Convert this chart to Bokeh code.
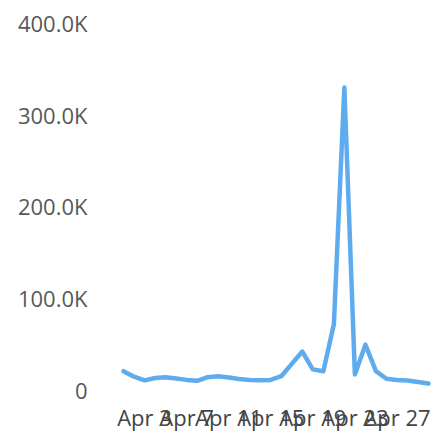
from bokeh.plotting import figure
from bokeh.models import FixedTicker, Range1d, ColumnDataSource
from bokeh.embed import file_html
from bokeh.resources import INLINE

# Data: daily values for April (day of month -> value)
days = list(range(1, 31))
values = [20000, 14000, 10000, 12500, 13500, 12000, 10500, 9500, 13500, 14500,
          13000, 11500, 10500, 10000, 10500, 14500, 28000, 41500, 22000, 20000,
          71000, 330000, 16500, 49000, 20000, 11700, 10400, 9800, 8200, 6500]

x_tick_days = [3, 7, 11, 15, 19, 23, 27]
x_tick_labels = ["Apr 3", "Apr 7", "Apr 11", "Apr 15", "Apr 19", "Apr 23", "Apr 27"]
y_ticks = [0, 100000, 200000, 300000, 400000]
y_tick_labels = ["0", "100.0K", "200.0K", "300.0K", "400.0K"]

src = ColumnDataSource(dict(day=days, value=values))

p = figure(width=438, height=434, output_backend="svg", toolbar_location=None,
           x_range=Range1d(-0.046, 30.76), y_range=Range1d(0, 412000),
           min_border_left=112, min_border_right=2, min_border_top=12, min_border_bottom=44)
p.outline_line_color = None
p.background_fill_color = "white"
p.border_fill_color = "white"
p.xgrid.visible = False
p.ygrid.visible = False

p.line("day", "value", source=src, line_color="#5eacee", line_width=4.5,
       line_join="round", line_cap="round")

font = "Open Sans"
p.xaxis.ticker = FixedTicker(ticks=x_tick_days)
p.xaxis.major_label_overrides = {d: l for d, l in zip(x_tick_days, x_tick_labels)}
p.yaxis.ticker = FixedTicker(ticks=y_ticks)
p.yaxis.major_label_overrides = {t: l for t, l in zip(y_ticks, y_tick_labels)}

for ax in (p.xaxis[0], p.yaxis[0]):
    ax.axis_line_color = None
    ax.major_tick_line_color = None
    ax.minor_tick_line_color = None
    ax.major_tick_out = 0
    ax.major_tick_in = 0
    ax.minor_tick_out = 0
    ax.minor_tick_in = 0
    ax.major_label_text_font = font

p.xaxis.major_label_text_font_size = "22px"
p.yaxis.major_label_text_font_size = "22px"
p.xaxis.major_label_text_color = "#444444"
p.yaxis.major_label_text_color = "#585858"
p.xaxis.major_label_standoff = 12
p.yaxis.major_label_standoff = 25

open("out.html", "w").write(file_html(p, INLINE))
